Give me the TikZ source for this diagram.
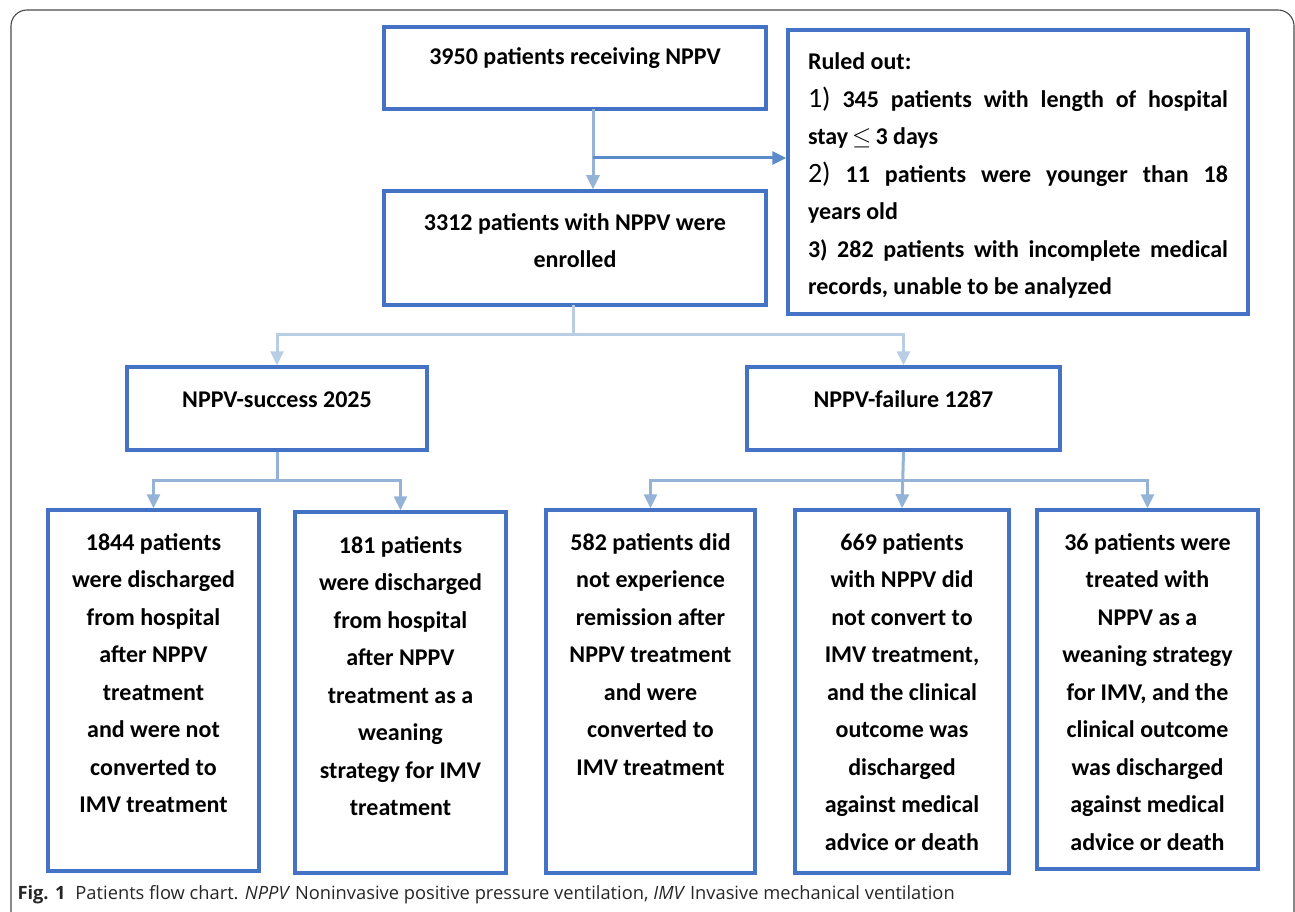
\documentclass[tikz,border=0pt]{standalone}
\usepackage{fontspec}
\setmainfont{Carlito}
\newfontfamily\capfont{Open Sans}
\usepackage{tikz}
\usetikzlibrary{arrows.meta}
\definecolor{boxblue}{HTML}{4472C4}
\definecolor{linkblue}{HTML}{95B3D7}
\definecolor{paleblue}{HTML}{B9CDE5}
\definecolor{sideblue}{HTML}{5B8BC9}
\definecolor{framegray}{HTML}{4A4A4A}
\newcommand{\stagetext}[4][40pt]{\parbox[c][#3][t]{#2}{\centering\rule{0pt}{#1}#4}}
\newcommand{\listno}[1]{{\fontsize{28}{37.5}\selectfont\mdseries #1}}

\begin{document}
\begin{tikzpicture}[x=1pt,y=-1pt,>={Triangle[length=14pt,width=13pt]},line width=3pt]
\tikzstyle{every node}=[font=\fontsize{24}{37.5}\selectfont\bfseries,inner sep=0pt]
\tikzstyle{stage}=[draw=boxblue,line width=3.5pt]
\tikzstyle{link}=[draw=linkblue]
\tikzstyle{palelink}=[draw=paleblue]
\useasboundingbox (0,0) rectangle (1295,912);
\draw[framegray,line width=1.1pt,rounded corners=16pt] (11,916) -- (11,10) -- (1294,10) -- (1294,916);

\node[stage] (start) at (575,68) {\stagetext[38pt]{382pt}{82pt}{3950 patients receiving NPPV}};
\node[stage] (enrol) at (575,248) {\stagetext[39pt]{382pt}{114pt}{3312 patients with NPPV were\\ enrolled}};
\node[stage] (ruled) at (1018,172) {\parbox[c][284pt][t]{460pt}{\leftskip=20pt\rightskip=20pt
  \rule{0pt}{40pt}Ruled out:\\
  \listno{1)} 345 patients with length of hospital\linebreak stay\,$\leq$\,3 days\\
  \listno{2)} 11 patients were younger than 18\linebreak years old\\
  3) 282 patients with incomplete medical\linebreak records, unable to be analyzed}};

\node[stage] (success) at (277,408.5) {\stagetext{300pt}{83pt}{NPPV-success 2025}};
\node[stage] (failure) at (903.5,408.5) {\stagetext{313pt}{83pt}{NPPV-failure 1287}};

\node[stage] (lone) at (153.5,690.5) {\stagetext{211pt}{361pt}{1844 patients\\ were discharged\\ from hospital\\ after NPPV\\ treatment\\ and were not\\ converted to\\ IMV treatment}};
\node[stage] (ltwo) at (400.5,692.5) {\stagetext[41pt]{211pt}{361pt}{181 patients\\ were discharged\\ from hospital\\ after NPPV\\ treatment as a\\ weaning\\ strategy for IMV\\ treatment}};
\node[stage] (lthree) at (650.5,691.5) {\stagetext{209pt}{363pt}{582 patients did\\ not experience\\ remission after\\ NPPV treatment\\ and were\\ converted to\\ IMV treatment}};
\node[stage] (lfour) at (902,691.5) {\stagetext{214pt}{363pt}{669 patients\\ with NPPV did\\ not convert to\\ IMV treatment,\\ and the clinical\\ outcome was\\ discharged\\ against medical\\ advice or death}};
\node[stage] (lfive) at (1147.5,689.5) {\stagetext{221pt}{359pt}{36 patients were\\ treated with\\ NPPV as a\\ weaning strategy\\ for IMV, and the\\ clinical outcome\\ was discharged\\ against medical\\ advice or death}};

\node[anchor=west,font=\capfont\fontsize{18.3}{20}\selectfont,text=black!85] (caption) at (16,895) {\textbf{Fig. 1}\hspace{10pt}Patients flow chart. \textit{NPPV} Noninvasive positive pressure ventilation, \textit{IMV} Invasive mechanical ventilation};

\coordinate (aout) at (593,109);
\coordinate (rjoin) at (593,158);
\coordinate (bout) at (573,305);
\coordinate (bsplit) at (573,334);
\coordinate (ssplit) at (277,480);
\coordinate (fsplit) at (903,480);

\draw[link,->] (aout) -- (aout |- enrol.north);
\draw[draw=sideblue,->] (rjoin) -- (rjoin -| ruled.west);
\draw[palelink] (bout) -- (bsplit);
\draw[palelink,->] (bsplit) -| (success.north);
\draw[palelink,->] (bsplit) -| (failure.north);
\draw[link] (success.south) -- (ssplit);
\draw[link,->] (ssplit) -| (lone.north);
\draw[link,->] (ssplit) -| (ltwo.north);
\draw[link,->] (failure.south) -- (lfour.north);
\draw[link,->] (fsplit) -| (lthree.north);
\draw[link,->] (fsplit) -| (lfive.north);
\end{tikzpicture}
\end{document}
